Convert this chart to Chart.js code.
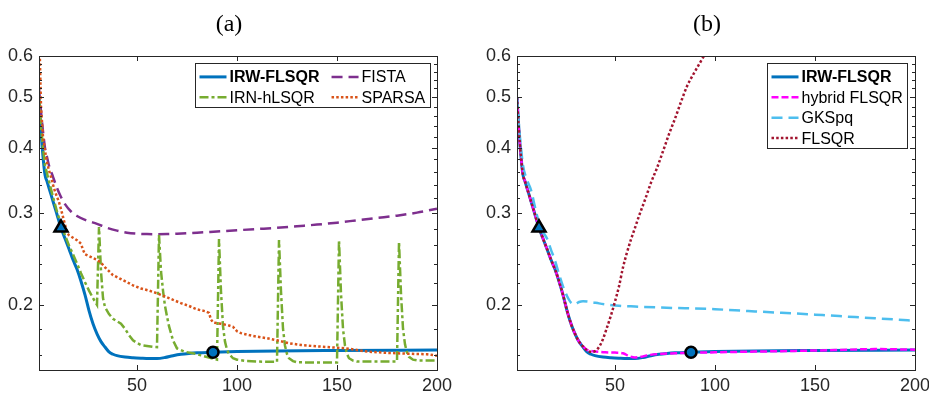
<!DOCTYPE html>
<html>
<head>
<meta charset="utf-8">
<script src="https://cdn.jsdelivr.net/npm/chart.js@4"></script>
<style>
  html, body { margin: 0; padding: 0; background: #fff; }
  #wrap { position: relative; width: 929px; height: 398px; }
  .panel { position: absolute; top: 0; height: 398px; }
</style>
</head>
<body>
<div id="wrap">
  <div class="panel" style="left:0;width:465px"><canvas id="chartA" width="465" height="398"></canvas></div>
  <div class="panel" style="left:470px;width:459px"><canvas id="chartB" width="459" height="398"></canvas></div>
</div>
<script>
// axis ticks
const xTicks = [50, 100, 150, 200];
const yMajorTicks = [0.2, 0.3, 0.4, 0.5, 0.6];
const yMinorTicks = [0.16, 0.18, 0.22, 0.24, 0.26, 0.28, 0.32, 0.34, 0.36, 0.38,
  0.42, 0.44, 0.46, 0.48, 0.52, 0.54, 0.56, 0.58];

// IRW-FLSQR (both panels)
const irwX = [1, 2, 3, 4, 5, 6, 8, 10, 12, 14, 16, 18, 20, 22, 24, 26, 28, 30, 32, 34, 36, 38, 40,
  44, 48, 52, 56, 60, 64, 68, 72, 76, 80, 88, 100, 120, 150, 200];
const irwY = [0.50, 0.43, 0.385, 0.355, 0.345, 0.335, 0.316, 0.298, 0.281, 0.268, 0.256, 0.244, 0.234,
  0.222, 0.209, 0.195, 0.184, 0.176, 0.170, 0.166, 0.1625, 0.1608, 0.1598, 0.1588, 0.1583, 0.1580,
  0.1578, 0.1578, 0.1585, 0.1598, 0.1608, 0.1614, 0.1618, 0.1622, 0.1627, 0.1632, 0.1635, 0.1638];

// IRN-hLSQR
const irnX = [1, 2, 3, 4, 6, 8, 10, 12, 14, 16, 18, 20, 22, 24, 26, 28, 30, 31, 32, 33, 34, 36, 38, 40,
  42, 44, 46, 48, 50, 52, 55, 58, 60, 61, 62, 63, 64, 65, 66, 68, 70, 74, 78, 82, 86, 90, 91, 92, 93,
  94, 95, 96, 98, 100, 105, 110, 115, 120, 121, 122, 123, 124, 125, 126, 128, 130, 140, 150, 151, 152,
  153, 154, 155, 156, 158, 160, 170, 180, 181, 182, 183, 184, 185, 186, 188, 190, 200];
const irnY = [0.50, 0.44, 0.40, 0.37, 0.345, 0.322, 0.302, 0.285, 0.272, 0.260, 0.250, 0.240, 0.230,
  0.221, 0.213, 0.206, 0.200, 0.282, 0.232, 0.206, 0.198, 0.192, 0.188, 0.186, 0.184, 0.180, 0.175,
  0.171, 0.169, 0.1675, 0.1668, 0.1662, 0.166, 0.2725, 0.232, 0.213, 0.199, 0.190, 0.182, 0.171, 0.165,
  0.1625, 0.1615, 0.160, 0.1585, 0.157, 0.2673, 0.212, 0.182, 0.170, 0.164, 0.161, 0.158, 0.157, 0.156,
  0.1557, 0.1556, 0.1555, 0.2663, 0.212, 0.180, 0.167, 0.161, 0.158, 0.156, 0.1552, 0.155, 0.155,
  0.2663, 0.210, 0.180, 0.167, 0.161, 0.158, 0.1563, 0.1557, 0.1557, 0.1558, 0.2644, 0.210, 0.180,
  0.168, 0.162, 0.159, 0.157, 0.1565, 0.1565];

// FISTA
const fistaX = [1, 2, 3, 4, 5, 6, 8, 10, 12, 14, 17, 20, 25, 30, 35, 40, 45, 50, 55, 60, 65, 70, 80, 90,
  100, 110, 120, 130, 140, 150, 160, 170, 180, 190, 200];
const fistaY = [0.52, 0.47, 0.43, 0.40, 0.384, 0.37, 0.352, 0.335, 0.322, 0.312, 0.302, 0.296, 0.29,
  0.286, 0.281, 0.2775, 0.275, 0.2738, 0.2733, 0.2732, 0.2734, 0.2738, 0.275, 0.2765, 0.278, 0.2795,
  0.281, 0.283, 0.285, 0.2875, 0.2905, 0.2935, 0.2965, 0.3005, 0.3057];

// SPARSA
const sparsaX = [1, 2, 3, 4, 5, 6, 7, 8, 9, 10, 11, 12, 13, 14, 15, 16, 18, 20, 22, 23, 24, 26, 28, 30,
  32, 34, 36, 38, 40, 44, 48, 52, 56, 60, 64, 68, 72, 76, 80, 84, 86, 87, 88, 92, 96, 98, 100, 102, 106,
  110, 115, 120, 126, 132, 140, 148, 156, 165, 175, 185, 195, 200];
const sparsaY = [0.70, 0.48, 0.42, 0.395, 0.375, 0.362, 0.352, 0.34, 0.33, 0.322, 0.315, 0.305, 0.295,
  0.285, 0.275, 0.272, 0.269, 0.266, 0.262, 0.255, 0.25, 0.248, 0.246, 0.244, 0.241, 0.236, 0.232,
  0.228, 0.226, 0.222, 0.218, 0.215, 0.213, 0.2105, 0.2075, 0.2045, 0.2015, 0.199, 0.196, 0.1945,
  0.193, 0.1875, 0.185, 0.184, 0.1825, 0.1815, 0.178, 0.1765, 0.175, 0.1738, 0.1726, 0.171, 0.1688,
  0.1675, 0.1665, 0.1657, 0.1648, 0.1627, 0.1618, 0.1612, 0.1608, 0.1598];

// hybrid FLSQR
const hybridX = [1, 2, 3, 4, 5, 6, 8, 10, 12, 14, 16, 18, 20, 22, 24, 26, 28, 30, 32, 34, 36, 38, 40,
  45, 50, 54, 57, 60, 63, 66, 72, 80, 88, 100, 120, 140, 160, 180, 200];
const hybridY = [0.50, 0.43, 0.385, 0.355, 0.345, 0.335, 0.316, 0.298, 0.281, 0.268, 0.256, 0.244,
  0.234, 0.222, 0.209, 0.195, 0.184, 0.176, 0.170, 0.1665, 0.1640, 0.1632, 0.1628, 0.1622, 0.1620,
  0.1615, 0.1595, 0.1585, 0.159, 0.1600, 0.161, 0.1615, 0.1618, 0.1622, 0.1627, 0.1632, 0.1638,
  0.1645, 0.1641];

// GKSpq
const gksX = [1, 2, 3, 4, 6, 8, 10, 12, 14, 16, 18, 20, 22, 24, 26, 28, 30, 32, 34, 38, 42, 46, 52, 60,
  70, 80, 90, 100, 110, 120, 130, 140, 150, 160, 170, 180, 190, 200];
const gksY = [0.50, 0.44, 0.40, 0.37, 0.347, 0.332, 0.308, 0.287, 0.276, 0.268, 0.255, 0.243, 0.229,
  0.217, 0.208, 0.202, 0.2005, 0.2025, 0.2032, 0.2025, 0.2013, 0.2003, 0.1992, 0.1985, 0.1978,
  0.1972, 0.1968, 0.1962, 0.1952, 0.1943, 0.1934, 0.1925, 0.1915, 0.1905, 0.1895, 0.1885, 0.1875,
  0.1864];

// FLSQR
const flsqrX = [1, 2, 3, 4, 5, 6, 8, 10, 12, 14, 16, 18, 20, 22, 24, 26, 28, 30, 32, 34, 36, 38, 40,
  42, 44, 46, 48, 50, 52, 54, 56, 58, 60, 62, 65, 68, 71, 74, 77, 80, 83, 86, 89, 92, 95, 100, 110, 120];
const flsqrY = [0.50, 0.43, 0.385, 0.355, 0.345, 0.335, 0.316, 0.298, 0.281, 0.268, 0.256, 0.244,
  0.234, 0.222, 0.209, 0.195, 0.184, 0.176, 0.170, 0.1665, 0.1635, 0.1625, 0.163, 0.166, 0.172,
  0.181, 0.191, 0.203, 0.217, 0.236, 0.252, 0.267, 0.281, 0.296, 0.318, 0.343, 0.366, 0.394, 0.425,
  0.455, 0.49, 0.525, 0.552, 0.578, 0.605, 0.65, 0.75, 0.85];

// marked iterations on IRW-FLSQR
const triangleX = [12];
const triangleY = [0.281];
const circleX = [88];
const circleY = [0.1622];

const toPoints = (xs, ys) => xs.map((x, i) => ({ x, y: ys[i] }));

const sansFont = '"Liberation Sans", Arial, sans-serif';

const matlabAxes = {
  id: 'matlabAxes',
  afterDatasetsDraw(chart) {
    const { ctx, chartArea: a, scales } = chart;
    ctx.save();
    ctx.strokeStyle = '#262626';
    ctx.lineWidth = 1;
    ctx.setLineDash([]);
    ctx.beginPath();
    scales.x.ticks.forEach((t) => {
      const px = Math.round(scales.x.getPixelForValue(t.value)) + 0.5;
      ctx.moveTo(px, a.bottom);
      ctx.lineTo(px, a.bottom - 5);
      ctx.moveTo(px, a.top);
      ctx.lineTo(px, a.top + 5);
    });
    scales.y.ticks.forEach((t) => {
      const len = yMajorTicks.includes(t.value) ? 5 : 3;
      const py = Math.round(scales.y.getPixelForValue(t.value)) + 0.5;
      ctx.moveTo(a.left, py);
      ctx.lineTo(a.left + len, py);
      ctx.moveTo(a.right, py);
      ctx.lineTo(a.right - len, py);
    });
    ctx.stroke();
    ctx.strokeRect(Math.round(a.left) + 0.5, Math.round(a.top) + 0.5,
      Math.round(a.width), Math.round(a.height));
    ctx.restore();
  },
};

const boxLegend = {
  id: 'boxLegend',
  afterDraw(chart, args, opts) {
    const { ctx, chartArea: a } = chart;
    const items = opts.items.map((l) => chart.data.datasets.find((d) => d.label === l));
    const { cols } = opts;
    const rows = Math.ceil(items.length / cols);
    const fontFor = (d) => `${d.bold ? 'bold ' : ''}16px ${sansFont}`;
    const lineLen = 27;
    const gap = 3;
    const padL = 4;
    const padR = 5;
    const colGap = 12;
    const rowH = 20.4;

    ctx.save();
    const colW = [];
    for (let c = 0; c < cols; c += 1) {
      let w = 0;
      items.forEach((d, i) => {
        if (i % cols === c) {
          ctx.font = fontFor(d);
          w = Math.max(w, ctx.measureText(d.label).width);
        }
      });
      colW.push(w);
    }
    const boxW = padL + colW.reduce((s, w) => s + lineLen + gap + w, 0) + colGap * (cols - 1) + padR;
    const boxH = 13.4 + (rows - 1) * rowH + 10.3;
    const x0 = Math.round(a.right - 7.5 - boxW) + 0.5;
    const y0 = Math.round(a.top + 7.3) + 0.5;

    ctx.fillStyle = '#fff';
    ctx.fillRect(x0, y0, boxW, boxH);
    ctx.strokeStyle = '#262626';
    ctx.lineWidth = 1;
    ctx.strokeRect(x0, y0, Math.round(boxW), Math.round(boxH));

    ctx.textBaseline = 'middle';
    ctx.textAlign = 'left';
    items.forEach((d, i) => {
      const r = Math.floor(i / cols);
      const c = i % cols;
      let cx = x0 + padL;
      for (let k = 0; k < c; k += 1) cx += lineLen + gap + colW[k] + colGap;
      const cy = y0 + 13.4 + r * rowH;
      ctx.setLineDash(d.borderDash || []);
      ctx.strokeStyle = d.borderColor;
      ctx.lineWidth = d.borderWidth;
      ctx.beginPath();
      ctx.moveTo(cx, cy);
      ctx.lineTo(cx + lineLen, cy);
      ctx.stroke();
      ctx.setLineDash([]);
      ctx.fillStyle = '#000';
      ctx.font = fontFor(d);
      ctx.fillText(d.label, cx + lineLen + gap, cy + 1);
    });
    ctx.restore();
  },
};

const panelTitle = {
  id: 'panelTitle',
  afterDraw(chart, args, opts) {
    const { ctx, chartArea: a } = chart;
    ctx.save();
    ctx.font = '24px "Liberation Serif", "DejaVu Serif", serif';
    ctx.fillStyle = '#000';
    ctx.textAlign = 'center';
    ctx.textBaseline = 'middle';
    ctx.fillText(opts.text, (a.left + a.right) / 2 + opts.dx, opts.y);
    ctx.restore();
  },
};

const markerSets = () => [
  {
    data: toPoints(triangleX, triangleY),
    showLine: false,
    pointStyle: 'triangle',
    pointRadius: 7.5,
    pointBorderWidth: 2.5,
    pointBorderColor: '#000',
    pointBackgroundColor: '#0072BD',
  },
  {
    data: toPoints(circleX, circleY),
    showLine: false,
    pointStyle: 'circle',
    pointRadius: 5.5,
    pointBorderWidth: 2.5,
    pointBorderColor: '#000',
    pointBackgroundColor: '#0072BD',
  },
];

const line = (label, xs, ys, color, extra) => ({
  label,
  data: toPoints(xs, ys),
  borderColor: color,
  backgroundColor: color,
  borderWidth: 2.5,
  pointRadius: 0,
  tension: 0,
  fill: false,
  ...extra,
});

function makePanel(canvas, { title, datasets, legend, yWidth, padRight }) {
  return new Chart(canvas, {
    type: 'line',
    data: { datasets },
    options: {
      responsive: false,
      animation: false,
      devicePixelRatio: 1,
      layout: { padding: { top: 56, left: 0, right: padRight, bottom: 0 } },
      plugins: {
        legend: { display: false },
        tooltip: { enabled: false },
        boxLegend: legend,
        panelTitle: { text: title, dx: -9, y: 25 },
      },
      scales: {
        x: {
          type: 'linear',
          min: 1,
          max: 200,
          afterBuildTicks(s) { s.ticks = xTicks.map((v) => ({ value: v })); },
          afterFit(s) { s.height = 28; s.paddingLeft = 0; s.paddingRight = 0; },
          grid: { display: false, drawTicks: false },
          border: { display: false },
          ticks: {
            autoSkip: false, maxRotation: 0, padding: 5, color: '#262626',
            font: { family: sansFont, size: 18 },
          },
        },
        y: {
          type: 'logarithmic',
          min: 0.15,
          max: 0.6,
          afterBuildTicks(s) {
            s.ticks = yMinorTicks.concat(yMajorTicks).sort((p, q) => p - q).map((v) => ({ value: v }));
          },
          afterFit(s) { s.width = yWidth; },
          grid: { display: false, drawTicks: false },
          border: { display: false },
          ticks: {
            autoSkip: false, padding: 6, color: '#262626',
            font: { family: sansFont, size: 18 },
            callback: (v) => (yMajorTicks.includes(v) ? v.toFixed(1) : ''),
          },
        },
      },
    },
    plugins: [matlabAxes, boxLegend, panelTitle],
  });
}

makePanel(document.getElementById('chartA'), {
  title: '(a)',
  yWidth: 39,
  padRight: 28,
  legend: { cols: 2, items: ['IRW-FLSQR', 'FISTA', 'IRN-hLSQR', 'SPARSA'] },
  datasets: [
    ...markerSets(),
    line('SPARSA', sparsaX, sparsaY, '#D95319', { borderDash: [2.5, 2.2] }),
    line('IRN-hLSQR', irnX, irnY, '#77AC30', { borderDash: [9, 3, 3, 3] }),
    line('FISTA', fistaX, fistaY, '#7E2F8E', { borderDash: [11, 6], cubicInterpolationMode: 'monotone' }),
    line('IRW-FLSQR', irwX, irwY, '#0072BD', { borderWidth: 3, bold: true, cubicInterpolationMode: 'monotone' }),
  ],
});

makePanel(document.getElementById('chartB'), {
  title: '(b)',
  yWidth: 47,
  padRight: 14,
  legend: { cols: 1, items: ['IRW-FLSQR', 'hybrid FLSQR', 'GKSpq', 'FLSQR'] },
  datasets: [
    ...markerSets(),
    line('FLSQR', flsqrX, flsqrY, '#A2142F', { borderDash: [2.5, 2.2], cubicInterpolationMode: 'monotone' }),
    line('GKSpq', gksX, gksY, '#4DBEEE', { borderDash: [11, 6], cubicInterpolationMode: 'monotone' }),
    line('hybrid FLSQR', hybridX, hybridY, '#FF00FF', { borderDash: [7, 3], cubicInterpolationMode: 'monotone' }),
    line('IRW-FLSQR', irwX, irwY, '#0072BD', { borderWidth: 3, bold: true, cubicInterpolationMode: 'monotone' }),
  ],
});
</script>
</body>
</html>
